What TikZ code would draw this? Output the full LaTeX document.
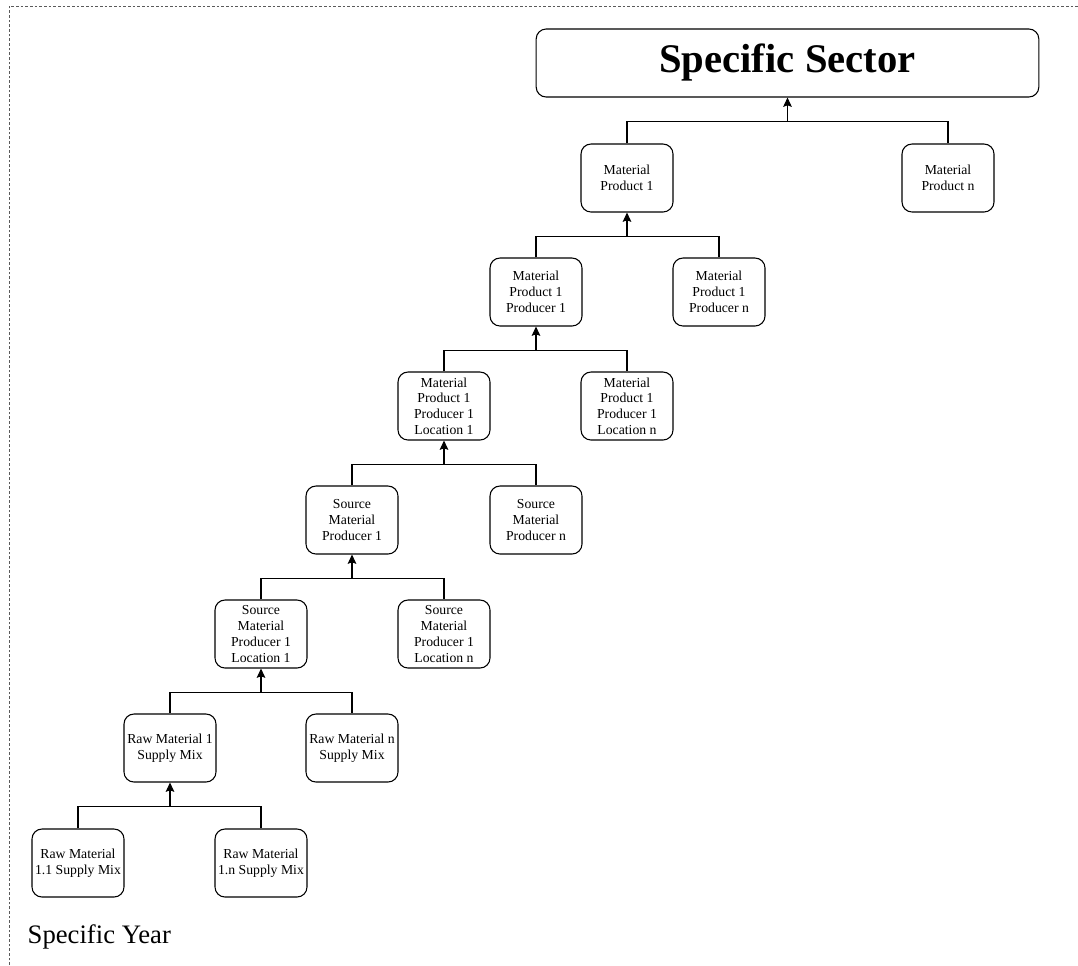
\documentclass[tikz,border=0pt]{standalone}
\usepackage{fontspec}
\setmainfont{Liberation Serif}
\usetikzlibrary{arrows.meta}
\definecolor{frameGray}{RGB}{90, 90, 90}
\tikzset{
  itemBox/.style={draw, rounded corners=7.5pt, line width=0.8pt, minimum width=69pt,
    minimum height=51pt, inner sep=1.5pt, align=center, font=\fontsize{10.3}{11.8}\selectfont},
  sectorBox/.style={draw, rounded corners=7.5pt, line width=0.8pt, minimum width=377pt,
    minimum height=51pt, font=\fontsize{30.5}{36}\selectfont\bfseries},
  link/.style={line width=0.8pt},
  upArrow/.style={line width=0.8pt, -{Stealth[length=7pt, width=6.5pt, inset=1.2pt]}},
}
\begin{document}
\begin{tikzpicture}[x=0.75pt, y=-0.75pt]
      \useasboundingbox (0,0) rectangle (1078,965);
      \draw[frameGray, line width=0.5pt, dash pattern=on 2pt off 1.5pt] (9,965) -- (9,6) -- (1078,6);
      % top of the tree
      \node[sectorBox] (sector) at (787.5,63) {Specific Sector};
      \node[itemBox] (prod1) at (627,178) {Material\\Product 1};
      \node[itemBox] (prodN) at (948,178) {Material\\Product n};
      \node[itemBox] (prdr1) at (536,292) {Material\\Product 1\\Producer 1};
      \node[itemBox] (prdrN) at (719,292) {Material\\Product 1\\Producer n};
      \node[itemBox] (loc1) at (444,406) {Material\\Product 1\\Producer 1\\Location 1};
      \node[itemBox] (locN) at (627,406) {Material\\Product 1\\Producer 1\\Location n};
      % source side
      \node[itemBox] (src1) at (352,520) {Source\\Material\\Producer 1};
      \node[itemBox] (srcN) at (536,520) {Source\\Material\\Producer n};
      \node[itemBox] (srcLoc1) at (261,634) {Source\\Material\\Producer 1\\Location 1};
      \node[itemBox] (srcLocN) at (444,634) {Source\\Material\\Producer 1\\Location n};
      \node[itemBox] (raw1) at (170,748) {Raw Material 1\\Supply Mix};
      \node[itemBox] (rawN) at (352,748) {Raw Material n\\Supply Mix};
      \node[itemBox] (raw11) at (78,863) {Raw Material\\1.1 Supply Mix};
      \node[itemBox] (raw1n) at (261,863) {Raw Material\\1.n Supply Mix};
      \node[anchor=base west, font=\fontsize{20}{24}\selectfont] (year) at (23,943) {Specific Year};
      % junctions
      \coordinate (jSector) at ([yshift=-18pt]sector.south);
      \coordinate (jProd) at ([yshift=-18pt]prod1.south);
      \coordinate (jPrdr) at ([yshift=-18pt]prdr1.south);
      \coordinate (jLoc) at ([yshift=-18pt]loc1.south);
      \coordinate (jSrc) at ([yshift=-18pt]src1.south);
      \coordinate (jSrcLoc) at ([yshift=-18pt]srcLoc1.south);
      \coordinate (jRaw) at ([yshift=-18pt]raw1.south);
      % connectors
      \draw[link] (prod1.north) |- (jSector) -| (prodN.north);
      \draw[upArrow] (jSector) -- (sector.south);
      \draw[link] (prdr1.north) |- (jProd) -| (prdrN.north);
      \draw[upArrow] (jProd) -- (prod1.south);
      \draw[link] (loc1.north) |- (jPrdr) -| (locN.north);
      \draw[upArrow] (jPrdr) -- (prdr1.south);
      \draw[link] (src1.north) |- (jLoc) -| (srcN.north);
      \draw[upArrow] (jLoc) -- (loc1.south);
      \draw[link] (srcLoc1.north) |- (jSrc) -| (srcLocN.north);
      \draw[upArrow] (jSrc) -- (src1.south);
      \draw[link] (raw1.north) |- (jSrcLoc) -| (rawN.north);
      \draw[upArrow] (jSrcLoc) -- (srcLoc1.south);
      \draw[link] (raw11.north) |- (jRaw) -| (raw1n.north);
      \draw[upArrow] (jRaw) -- (raw1.south);
    \end{tikzpicture}
\end{document}
